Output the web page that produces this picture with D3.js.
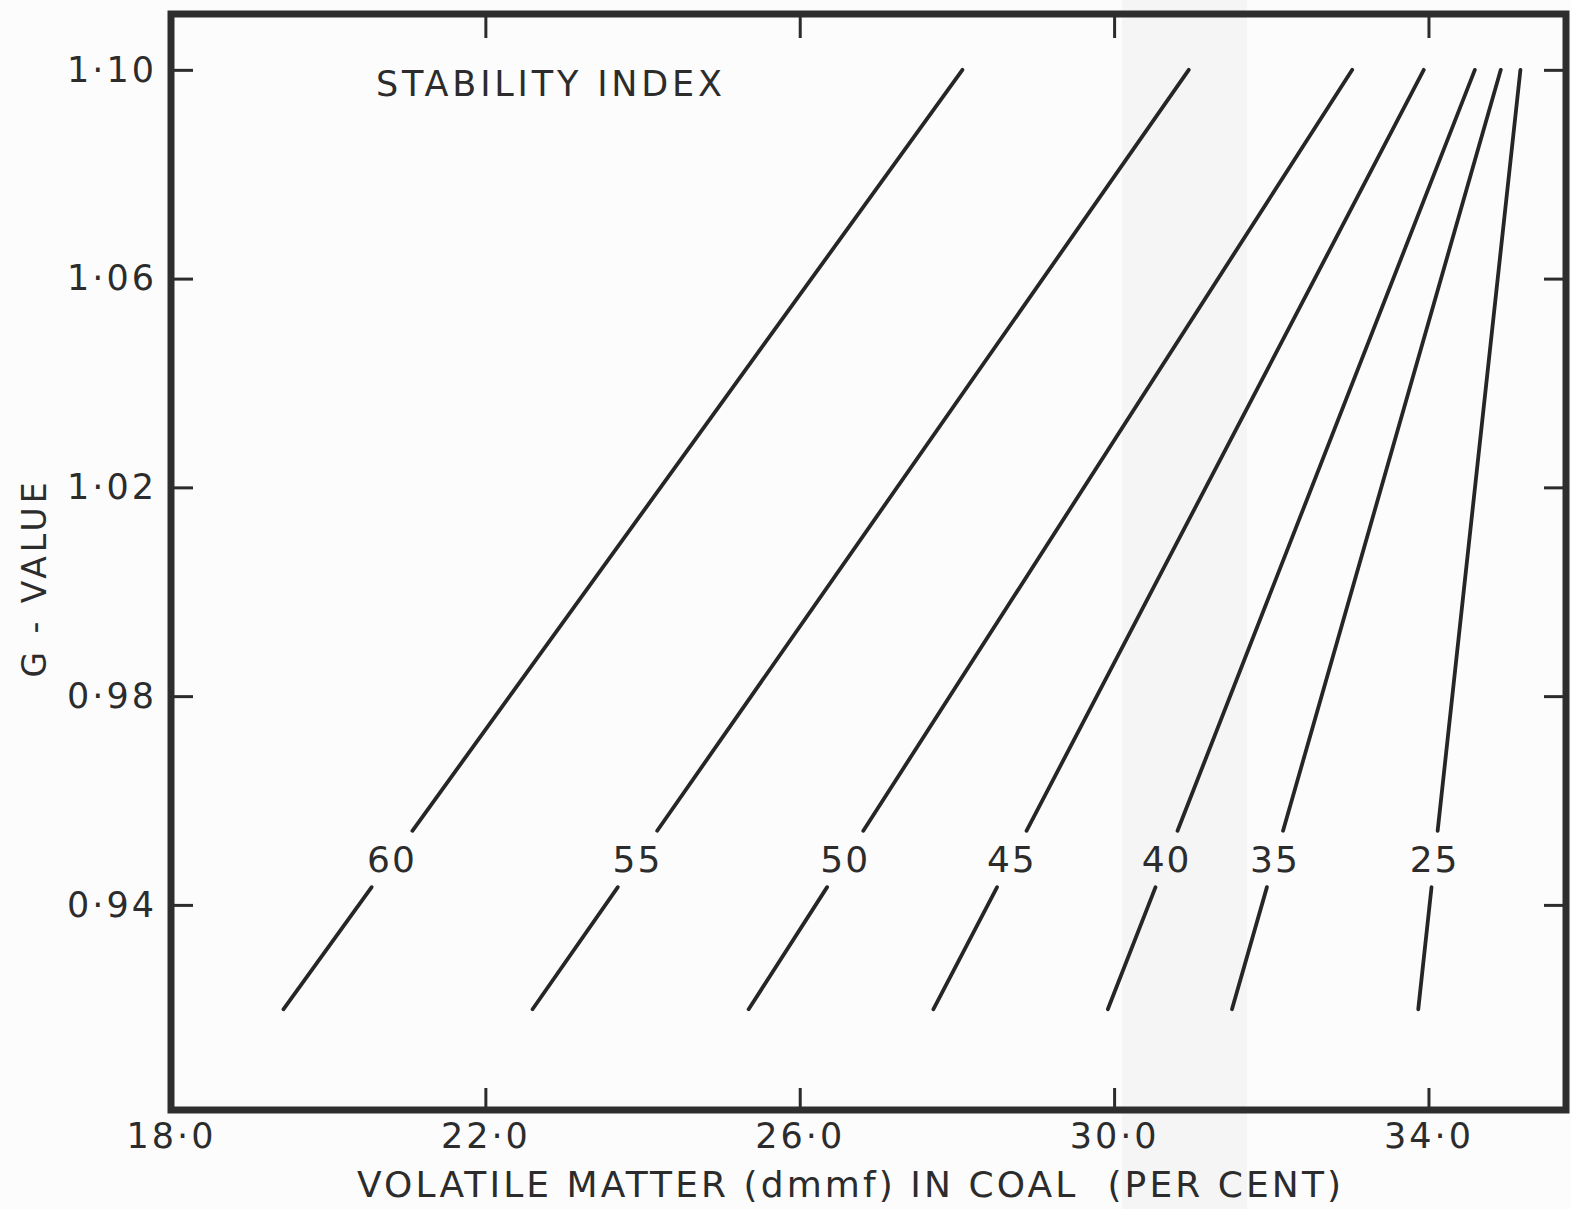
<!DOCTYPE html>
<html>
<head>
<meta charset="utf-8">
<script src="https://cdn.jsdelivr.net/npm/d3@7"></script>
<style>
  html, body { margin: 0; padding: 0; background: #fcfcfc; }
  svg { display: block; }
  text { font-family: "DejaVu Sans", sans-serif; fill: #2c2c2c; }
</style>
</head>
<body>
<svg id="chart" width="1571" height="1209"></svg>
<script>
// Stability index curves: volatile matter (dmmf, %) vs G-value
const stabilityIndex = [60, 55, 50, 45, 40, 35, 25];
const gRange = [0.92, 1.10];                       // G-value at each end of a curve
const vmAtLowG  = [19.43, 22.60, 25.35, 27.70, 29.92, 31.50, 33.87];
const vmAtHighG = [28.07, 30.95, 33.03, 33.94, 34.59, 34.92, 35.17];
const labelG = 0.9488;                             // where the index number sits on each curve
const labelGap = 0.0054;                           // half-height of the break around the number

const xTicks = [18, 22, 26, 30, 34];
const yTicks = [0.94, 0.98, 1.02, 1.06, 1.10];
const xDomain = [18.0, 35.75];
const yDomain = [0.9007, 1.1107];

const svg = d3.select("#chart");
const frame = { left: 171, right: 1566, top: 14, bottom: 1110 };

const x = d3.scaleLinear().domain(xDomain).range([frame.left, frame.right]);
const y = d3.scaleLinear().domain(yDomain).range([frame.bottom, frame.top]);

// faint scanner streak
svg.append("rect")
  .attr("x", 1122).attr("y", 0).attr("width", 125).attr("height", 1209)
  .attr("fill", "#f5f5f5");

const fmt = d => d3.format(d >= 10 ? ".1f" : ".2f")(d).replace(".", "\u00B7");

// axes with inward ticks
const tickStyle = g => {
  g.select(".domain").remove();
  g.selectAll(".tick line").attr("stroke", "#2c2c2c").attr("stroke-width", 3);
  g.selectAll(".tick text")
    .style("font-size", "35px").style("letter-spacing", "3px")
    .attr("fill", "#2c2c2c");
};

svg.append("g")
  .attr("transform", `translate(0,${frame.bottom})`)
  .call(d3.axisBottom(x).tickValues(xTicks).tickSize(-22).tickPadding(13).tickFormat(fmt))
  .call(tickStyle)
  .call(g => g.selectAll(".tick").filter(d => d === 18).select("line").remove());

svg.append("g")
  .attr("transform", `translate(0,${frame.top})`)
  .call(d3.axisTop(x).tickValues(xTicks.slice(1)).tickSize(-24).tickFormat(""))
  .call(tickStyle);

svg.append("g")
  .attr("transform", `translate(${frame.left},0)`)
  .call(d3.axisLeft(y).tickValues(yTicks).tickSize(-22).tickPadding(14).tickFormat(fmt))
  .call(tickStyle)
  .call(g => g.selectAll(".tick text").attr("font-family", null));

svg.append("g")
  .attr("transform", `translate(${frame.right},0)`)
  .call(d3.axisRight(y).tickValues(yTicks).tickSize(-22).tickFormat(""))
  .call(tickStyle);

// plot frame
svg.append("rect")
  .attr("x", x(xDomain[0])).attr("y", y(yDomain[1]))
  .attr("width", x(xDomain[1]) - x(xDomain[0]))
  .attr("height", y(yDomain[0]) - y(yDomain[1]))
  .attr("fill", "none").attr("stroke", "#2e2e2e").attr("stroke-width", 7);

// curves, each broken where its index number is written
const curves = stabilityIndex.map((s, i) => {
  const vm = d3.scaleLinear().domain(gRange).range([vmAtLowG[i], vmAtHighG[i]]);
  return { s, vm };
});

const line = d3.line().x(d => x(d[0])).y(d => y(d[1]));
const curveG = svg.append("g").attr("fill", "none").attr("stroke", "#262626")
  .attr("stroke-width", 3.8).attr("stroke-linecap", "round");

curves.forEach(c => {
  const lowSeg = [gRange[0], labelG - labelGap].map(g => [c.vm(g), g]);
  const highSeg = [labelG + labelGap, gRange[1]].map(g => [c.vm(g), g]);
  curveG.append("path").attr("d", line(lowSeg));
  curveG.append("path").attr("d", line(highSeg));
});

svg.append("g").selectAll("text")
  .data(curves)
  .join("text")
  .attr("x", d => x(d.vm(labelG)))
  .attr("y", y(labelG))
  .attr("dy", "0.36em")
  .attr("text-anchor", "middle")
  .style("font-size", "36px").style("letter-spacing", "2px")
  .text(d => d.s);

// titles
svg.append("text")
  .attr("x", 549).attr("y", 96)
  .attr("text-anchor", "middle")
  .attr("textLength", 346).attr("lengthAdjust", "spacing")
  .style("font-size", "35px")
  .text("STABILITY INDEX");

svg.append("text")
  .attr("x", 849).attr("y", 1197)
  .attr("text-anchor", "middle")
  .attr("textLength", 984).attr("lengthAdjust", "spacing")
  .style("font-size", "36px")
  .attr("xml:space", "preserve")
  .text("VOLATILE MATTER (dmmf) IN COAL  (PER CENT)");

svg.append("text")
  .attr("transform", "translate(46,580) rotate(-90)")
  .attr("text-anchor", "middle")
  .attr("textLength", 195).attr("lengthAdjust", "spacing")
  .style("font-size", "33px")
  .text("G - VALUE");
</script>
</body>
</html>
